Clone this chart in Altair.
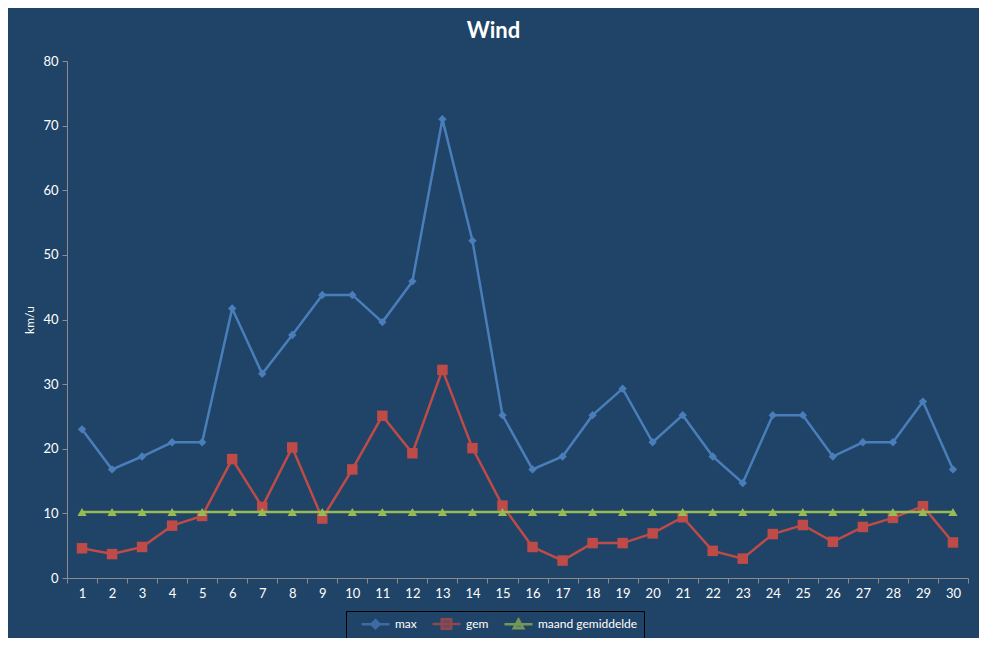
import altair as alt
import pandas as pd

days = list(range(1, 31))
max_vals = [23.0, 16.8, 18.8, 21.0, 21.0, 41.7, 31.6, 37.6, 43.8, 43.8,
            39.6, 45.9, 71.0, 52.2, 25.2, 16.8, 18.8, 25.2, 29.3, 21.0,
            25.2, 18.8, 14.7, 25.2, 25.2, 18.8, 21.0, 21.0, 27.3, 16.8]
gem_vals = [4.6, 3.7, 4.8, 8.1, 9.6, 18.4, 11.0, 20.2, 9.2, 16.8,
            25.1, 19.3, 32.2, 20.1, 11.2, 4.8, 2.7, 5.4, 5.4, 6.9,
            9.4, 4.2, 3.0, 6.8, 8.2, 5.6, 7.9, 9.3, 11.1, 5.5]
maand_vals = [10.2, 10.2, 10.2, 10.2, 10.2, 10.2, 10.2, 10.2, 10.2, 10.2,
              10.2, 10.2, 10.2, 10.2, 10.2, 10.2, 10.2, 10.2, 10.2, 10.2,
              10.2, 10.2, 10.2, 10.2, 10.2, 10.2, 10.2, 10.2, 10.2, 10.2]

series_names = ["max", "gem", "maand gemiddelde"]
series_colors = ["#4A7EBB", "#BE4B48", "#98B954"]
series_shapes = ["diamond", "square", "triangle-up"]
series_sizes = [70, 110, 85]
legend_paths = [
    "M0.6,0H6.2M3.4,-0.8L4.2,0L3.4,0.8L2.6,0Z",
    "M0.6,0H6.2M2.45,-0.95H4.35V0.95H2.45Z",
    "M0.6,0H6.2M3.4,-0.95L4.35,0.8H2.45Z",
]

rows = []
for name, vals in zip(series_names, [max_vals, gem_vals, maand_vals]):
    for d, v in zip(days, vals):
        rows.append({"day": d, "value": v, "series": name})
df = pd.DataFrame(rows)

FONT = "Lato"
GRAY = "#8C8C8C"

x_enc = alt.X(
    "day:O",
    sort=days,
    scale=alt.Scale(paddingInner=0, paddingOuter=0),
    axis=alt.Axis(title=None, labelAngle=0, tickBand="extent", tickSize=5,
                  labelPadding=4, domainColor=GRAY, tickColor=GRAY,
                  labelColor="white", labelFontSize=13, labelFont=FONT,
                  grid=False),
)
y_enc = alt.Y(
    "value:Q",
    scale=alt.Scale(domain=[0, 80], nice=False),
    axis=alt.Axis(title="km/u", values=[0, 10, 20, 30, 40, 50, 60, 70, 80],
                  tickSize=5, labelPadding=4, domainColor=GRAY, tickColor=GRAY,
                  labelColor="white", labelFontSize=13, labelFont=FONT,
                  titleColor="white", titleFont=FONT, titleFontSize=12,
                  titleFontWeight="normal", titlePadding=6, grid=False),
)

base = alt.Chart(df).encode(x=x_enc, y=y_enc)

layers = []
for name, col, shp, sz in zip(series_names, series_colors, series_shapes, series_sizes):
    sub = base.transform_filter(alt.datum.series == name)
    layers.append(sub.mark_line(color=col, strokeWidth=2.5))
    layers.append(sub.mark_point(shape=shp, filled=True, size=sz, color=col, opacity=1))

legend_layer = base.mark_point(filled=True, size=0).encode(
    fill=alt.Fill("series:N",
                  scale=alt.Scale(domain=series_names, range=series_colors),
                  legend=alt.Legend(title=None, orient="none", legendX=279, legendY=550,
                                    direction="horizontal", columns=3,
                                    strokeColor="black", padding=6,
                                    symbolSize=100, symbolOpacity=1,
                                    symbolStrokeWidth=2.5, labelOffset=30,
                                    columnPadding=6,
                                    labelColor="white", labelFontSize=12,
                                    labelFont=FONT)),
    stroke=alt.Stroke("series:N",
                      scale=alt.Scale(domain=series_names, range=series_colors)),
    shape=alt.Shape("series:N",
                    scale=alt.Scale(domain=series_names, range=legend_paths)),
)

chart = alt.layer(*layers, legend_layer).properties(
    width=901,
    height=517,
    autosize=alt.AutoSizeParams(type="none"),
    padding={"left": 59, "top": 53, "right": 11, "bottom": 60},
    background="#1F4467",
    title=alt.TitleParams("Wind", color="white", font=FONT, fontSize=22,
                          fontWeight="bold", anchor="middle", dx=-24, offset=12),
).configure_view(stroke=None)

chart.save("out.html", embed_options={"renderer": "svg", "actions": False})
